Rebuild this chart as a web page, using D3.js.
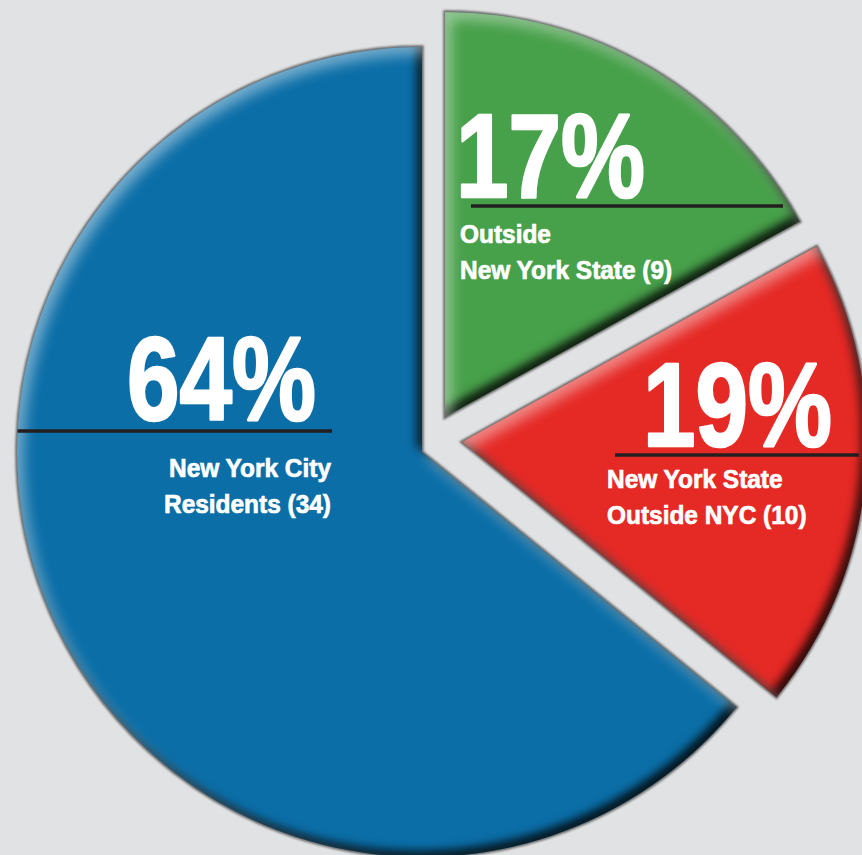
<!DOCTYPE html>
<html>
<head>
<meta charset="utf-8">
<script src="https://cdn.jsdelivr.net/npm/d3@7"></script>
<style>
  html, body { margin: 0; padding: 0; background: #e1e2e4; }
  svg { display: block; }
</style>
</head>
<body>
<div id="chart"></div>
<script>
// ---- data ----
const categories = ["Outside New York State", "New York State Outside NYC", "New York City Residents"];
const counts = [9, 10, 34];
const labelLines = [["Outside", "New York State"], ["New York State", "Outside NYC"], ["New York City", "Residents"]];

// ---- style / layout ----
const W = 862, H = 855;
const sliceColors = ["#47a04a", "#e52925", "#0b6ea7"];
const radius = 405;
const baseCenter = [422, 452];
const explode = [[23, -35], [40, -10], [0, 0]];   // per-slice offset (layout)
const fontFam = "'Liberation Sans', Arial, sans-serif";
const bigSize = 118, bigSquash = 0.8;
const subSize = 26, subSquash = 0.94, subLead = 36.5;

// label layout relative to slice center
const labelLayout = [
  { anchor: "start", px: 11, py: -220, rx0: 26, rx1: 338, ry: -211, sAnchor: "start", sx: 15, sy: -174 },
  { anchor: "start", px: 181, py: 4, rx0: 153, rx1: 397, ry: 13, sAnchor: "start", sx: 145, sy: 46 },
  { anchor: "end", px: -106, py: -32, rx0: null, rx1: -90, ry: -21, sAnchor: "end", sx: -91, sy: 25 }
];

const total = d3.sum(counts);
const data = categories.map((c, i) => ({
  category: c, count: counts[i], pct: Math.round(counts[i] / total * 100), lines: labelLines[i], i
}));

const svg = d3.select("#chart").append("svg").attr("width", W).attr("height", H);
svg.append("rect").attr("width", W).attr("height", H).attr("fill", "#e1e2e4");

const defs = svg.append("defs");
const f = defs.append("filter").attr("id", "bevel")
  .attr("x", "-8%").attr("y", "-8%").attr("width", "116%").attr("height", "116%")
  .attr("color-interpolation-filters", "sRGB");
f.append("feComponentTransfer").attr("in", "SourceAlpha").attr("result", "inv")
  .append("feFuncA").attr("type", "table").attr("tableValues", "1 0");
f.append("feGaussianBlur").attr("in", "inv").attr("stdDeviation", 5).attr("result", "invBlur");
f.append("feOffset").attr("in", "invBlur").attr("dx", -5).attr("dy", -6).attr("result", "offDark");
f.append("feFlood").attr("flood-color", "#000").attr("flood-opacity", 0.85).attr("result", "blk");
f.append("feComposite").attr("in", "blk").attr("in2", "offDark").attr("operator", "in").attr("result", "dark");
f.append("feComposite").attr("in", "dark").attr("in2", "SourceAlpha").attr("operator", "in").attr("result", "darkIn");
f.append("feGaussianBlur").attr("in", "inv").attr("stdDeviation", 7).attr("result", "invBlur2");
f.append("feOffset").attr("in", "invBlur2").attr("dx", 6).attr("dy", 7).attr("result", "offLight");
f.append("feFlood").attr("flood-color", "#fff").attr("flood-opacity", 0.45).attr("result", "wht");
f.append("feComposite").attr("in", "wht").attr("in2", "offLight").attr("operator", "in").attr("result", "light");
f.append("feComposite").attr("in", "light").attr("in2", "SourceAlpha").attr("operator", "in").attr("result", "lightIn");
const fm = f.append("feMerge");
fm.append("feMergeNode").attr("in", "SourceGraphic");
fm.append("feMergeNode").attr("in", "darkIn");
fm.append("feMergeNode").attr("in", "lightIn");

const soft = defs.append("filter").attr("id", "soft").attr("x", "-5%").attr("y", "-5%").attr("width", "110%").attr("height", "110%");
soft.append("feGaussianBlur").attr("stdDeviation", 0.9);

const pie = d3.pie().sort(null).value(d => d.count).startAngle(0).endAngle(2 * Math.PI);
const arc = d3.arc().innerRadius(0).outerRadius(radius);
const arcs = pie(data);

const g = svg.selectAll("g.slice").data(arcs).join("g")
  .attr("class", "slice")
  .attr("transform", d => `translate(${baseCenter[0] + explode[d.data.i][0]},${baseCenter[1] + explode[d.data.i][1]})`);

g.append("path").attr("d", arc).attr("fill", "none")
  .attr("stroke", "#666").attr("stroke-width", 3.4).attr("stroke-linejoin", "miter")
  .attr("filter", "url(#soft)");
g.append("path").attr("d", arc).attr("fill", d => sliceColors[d.data.i]).attr("filter", "url(#bevel)");

g.each(function (d) {
  const L = labelLayout[d.data.i];
  const sel = d3.select(this);
  let rx0 = L.rx0;
  if (rx0 === null) rx0 = -Math.sqrt(radius * radius - L.ry * L.ry);
  sel.append("line").attr("x1", rx0).attr("x2", L.rx1).attr("y1", L.ry).attr("y2", L.ry)
    .attr("stroke", "#231f20").attr("stroke-width", 3.5);
  sel.append("g").attr("transform", `translate(${L.px},${L.py}) scale(${bigSquash},1)`)
    .append("text").attr("x", 0).attr("y", 0).attr("text-anchor", L.anchor)
    .attr("font-family", fontFam).attr("font-weight", "bold").attr("font-size", bigSize)
    .attr("fill", "#fff").attr("stroke", "#fff").attr("stroke-width", 2.6).attr("stroke-linejoin", "round")
    .text(d.data.pct + "%");
  const lines = d.data.lines.slice();
  lines[lines.length - 1] = lines[lines.length - 1] + " (" + d.data.count + ")";
  sel.append("g").attr("transform", `translate(${L.sx},${L.sy}) scale(${subSquash},1)`)
    .append("text").attr("text-anchor", L.sAnchor)
    .attr("font-family", fontFam).attr("font-weight", "bold").attr("font-size", subSize)
    .attr("fill", "#fff").attr("stroke", "#fff").attr("stroke-width", 0.7)
    .selectAll("tspan").data(lines).join("tspan")
    .attr("x", 0).attr("y", (t, k) => k * subLead).text(t => t);
});
</script>
</body>
</html>
